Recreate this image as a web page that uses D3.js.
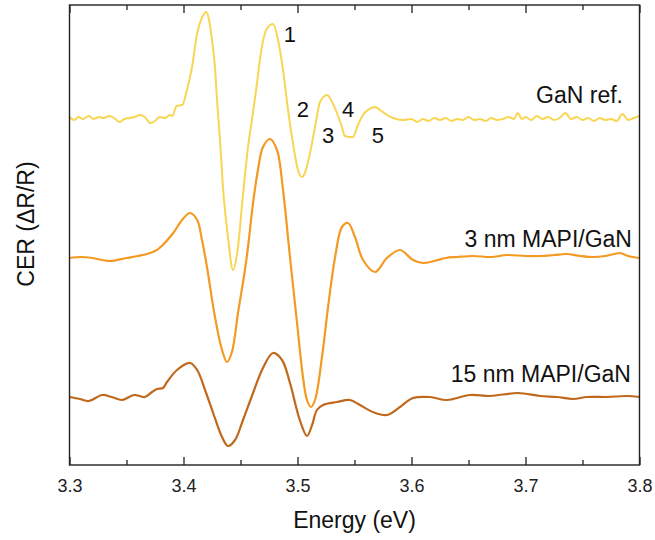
<!DOCTYPE html>
<html>
<head>
<meta charset="utf-8">
<script src="https://d3js.org/d3.v7.min.js"></script>
<style>
  body { margin: 0; background: #fff; }
  svg { display: block; font-family: "Liberation Sans", Arial, sans-serif; }
</style>
</head>
<body>
<svg id="chart" width="655" height="540"></svg>
<script>
// energies (eV) and CER values (arb. units, each curve relative to its own baseline)
const ganE = [3.300,3.304,3.308,3.312,3.317,3.321,3.326,3.330,3.335,3.339,3.344,3.348,3.353,3.357,3.362,3.366,3.371,3.375,3.379,3.384,3.388,
  3.390,3.394,3.399,3.403,3.4075,3.412,3.4165,3.420,3.4224,3.425,3.4276,3.4294,3.432,3.4346,3.439,3.4434,3.4478,3.452,3.4566,3.460,
  3.4645,3.467,3.4715,3.476,3.4785,3.4829,3.4873,3.4917,3.496,3.5004,3.504,3.5065,3.511,3.5154,3.5197,3.526,3.5303,3.5346,3.539,
  3.5416,3.546,3.5487,3.553,3.5574,3.5618,3.568,3.5724,3.5785,3.5838,3.5925,
  3.600,3.605,3.610,3.615,3.620,3.625,3.630,3.635,3.640,3.645,3.650,3.655,3.660,3.665,3.670,3.675,3.680,3.685,3.690,3.693,3.697,
  3.700,3.705,3.710,3.715,3.720,3.725,3.730,3.735,3.740,3.745,3.750,3.755,3.760,3.765,3.770,3.775,3.780,3.785,3.790,3.795,3.800];
const ganV = [0.1,-0.2,0.1,-0.1,0.2,-0.1,0.1,0,0.2,0,-0.4,-0.1,0,0.1,0.3,0.1,-0.5,-0.3,0.1,0,0.3,
  0.2,1.2,1.3,2.8,5.1,8.5,10.1,10.6,9.8,7.8,5.1,1.8,-2.2,-6.9,-11.9,-15.2,-12.9,-7.9,-2.9,-0.2,
  3.5,5.8,8.5,9.3,9.4,7.8,4.8,0.8,-2.5,-5.2,-5.9,-5.5,-3.5,-0.9,1.6,2.3,1.6,0.5,-0.9,
  -1.8,-1.9,-1.9,-0.7,0.3,0.8,1.1,0.8,0.3,0,-0.2,
  -0.1,-0.4,-0.1,-0.3,0,-0.2,0,-0.3,-0.1,-0.2,0.1,-0.2,-0.1,-0.3,0,-0.2,-0.1,0.1,-0.1,0.5,-0.1,
  0.1,-0.2,0.2,-0.1,0.1,-0.2,0,0.5,-0.1,0.1,-0.2,0,-0.3,0,-0.2,-0.1,-0.3,0.4,-0.2,0,0.2];

const mapi3E = [3.300,3.310,3.320,3.335,3.350,3.360,3.368,3.375,3.379,3.391,3.3987,3.4057,3.412,3.4162,3.4206,3.4276,3.4338,3.4382,3.4425,
  3.4478,3.4539,3.4566,3.461,3.4653,3.4697,3.4759,3.482,3.4873,3.4934,3.4996,3.5048,3.5083,3.5118,3.5154,3.5215,3.5268,3.533,
  3.539,3.5443,3.5504,3.5575,3.568,3.5785,3.5899,3.6013,3.6101,3.620,3.630,3.640,3.654,3.670,3.684,3.700,3.713,3.725,3.736,
  3.748,3.759,3.770,3.778,3.783,3.790,3.800];
const mapi3V = [0,0.1,0,-0.3,0,0.2,0.4,0.7,1.0,2.5,3.8,4.5,3.8,1.8,-0.9,-5.9,-9.2,-10.4,-9.4,
  -5.5,-1.2,1.1,5.5,8.8,11.1,11.9,10.8,6.8,0.1,-6.5,-11.9,-14.2,-14.9,-14.2,-9.9,-4.9,0.1,
  3.1,3.5,2.1,-0.2,-1.4,0,0.8,-0.2,-0.5,-0.3,0,0.1,0.2,0.1,0.3,0.2,0.2,0.3,0.4,
  0.2,0.1,0.2,0.4,0.5,0.2,0];

const mapi15E = [3.300,3.309,3.317,3.3285,3.337,3.346,3.3566,3.366,3.3724,3.3768,3.382,3.3855,3.3943,3.4057,3.412,3.4189,3.426,
  3.4338,3.439,3.4452,3.4522,3.461,3.4697,3.4785,3.4864,3.4934,3.502,3.5083,3.5128,3.517,3.5224,3.5347,3.546,3.5548,3.5662,
  3.5785,3.5899,3.6013,3.6162,3.631,3.6513,3.6689,3.6934,3.7127,3.7276,3.7417,3.754,3.7715,3.789,3.800];
const mapi15V = [0,-0.2,-0.4,0.2,0,-0.3,0.2,0,0.5,0.8,0.9,1.5,2.7,3.4,2.7,0.7,-1.6,
  -4.0,-4.9,-4.3,-2.3,0.4,2.9,4.4,3.7,1.4,-2.3,-3.9,-2.8,-1.3,-0.8,-0.5,-0.3,-0.8,-1.5,
  -1.8,-1.0,-0.1,0,-0.3,0.2,0.1,0.4,0.1,0,-0.2,0,0,0.1,0];

const seriesNames = ["GaN ref.", "3 nm MAPI/GaN", "15 nm MAPI/GaN"];
const seriesOffsets = [34.7, 20.7, 6.8];
const seriesLabelE = [3.7855, 3.7934, 3.7925];
const seriesLabelY = [36.2, 21.8, 8.3];
const seriesColors = ["#f8d552", "#f49a22", "#c0681c"];

const xTicks = [3.3, 3.4, 3.5, 3.6, 3.7, 3.8];
const xMinorTicks = [3.35, 3.45, 3.55, 3.65, 3.75];

// transition labels on the GaN curve
const peakLabels = ["1", "2", "3", "4", "5"];
const peakLabelE = [3.4934, 3.5048, 3.5268, 3.5443, 3.5706];
const peakLabelY = [42.3, 34.8, 32.2, 34.8, 32.2];

const svg = d3.select("#chart");
const x = d3.scaleLinear().domain([3.3, 3.8]).range([69.5, 639.5]);
const y = d3.scaleLinear().domain([0, 46]).range([465, 5]);

const series = [
  { E: ganE, V: ganV },
  { E: mapi3E, V: mapi3V },
  { E: mapi15E, V: mapi15V },
];

// noisy GaN trace keeps monotone segments, the smoother MAPI traces get a spline
const curves = [d3.curveMonotoneX, d3.curveCatmullRom.alpha(0.5), d3.curveCatmullRom.alpha(0.5)];

series.forEach((s, i) => {
  const pts = s.E.map((e, k) => [e, s.V[k] + seriesOffsets[i]]);
  const line = d3.line()
    .x((d) => x(d[0]))
    .y((d) => y(d[1]))
    .curve(curves[i]);
  svg.append("path")
    .datum(pts)
    .attr("fill", "none")
    .attr("stroke", seriesColors[i])
    .attr("stroke-width", i === 0 ? 2 : 2.2)
    .attr("stroke-linejoin", "round")
    .attr("d", line);
  svg.append("text")
    .attr("x", x(seriesLabelE[i]))
    .attr("y", y(seriesLabelY[i]))
    .attr("text-anchor", "end")
    .attr("font-size", 23)
    .attr("fill", "#111")
    .text(seriesNames[i]);
});

svg.selectAll(".peak")
  .data(peakLabels)
  .enter()
  .append("text")
  .attr("x", (d, i) => x(peakLabelE[i]))
  .attr("y", (d, i) => y(peakLabelY[i]))
  .attr("text-anchor", "middle")
  .attr("font-size", 22)
  .attr("fill", "#111")
  .text((d) => d);

// axes with inward ticks
const bottomAxis = svg.append("g").attr("transform", `translate(0,${y(0)})`);
bottomAxis.call(d3.axisBottom(x).tickValues(xTicks).tickSize(-8).tickPadding(14).tickFormat(d3.format(".1f")));
bottomAxis.append("g").call(d3.axisBottom(x).tickValues(xMinorTicks).tickSize(-5).tickFormat(""));
const topAxis = svg.append("g").attr("transform", `translate(0,${y(46)})`);
topAxis.call(d3.axisTop(x).tickValues(xTicks).tickSize(-8).tickFormat(""));
topAxis.append("g").call(d3.axisTop(x).tickValues(xMinorTicks).tickSize(-5).tickFormat(""));
svg.selectAll(".domain").remove();
svg.selectAll(".tick line").attr("stroke", "#222").attr("stroke-width", 1.3);
bottomAxis.selectAll("text")
  .attr("font-size", 18)
  .attr("fill", "#222")
  .attr("font-family", "Liberation Sans, Arial, sans-serif");

svg.append("rect")
  .attr("x", x(3.3))
  .attr("y", y(46))
  .attr("width", x(3.8) - x(3.3))
  .attr("height", y(0) - y(46))
  .attr("fill", "none")
  .attr("stroke", "#222")
  .attr("stroke-width", 1.4);

svg.append("text")
  .attr("x", (x(3.3) + x(3.8)) / 2)
  .attr("y", 528)
  .attr("text-anchor", "middle")
  .attr("font-size", 23)
  .attr("fill", "#111")
  .text("Energy (eV)");

svg.append("text")
  .attr("transform", "translate(34,224) rotate(-90)")
  .attr("text-anchor", "middle")
  .attr("font-size", 23)
  .attr("fill", "#111")
  .text("CER (ΔR/R)");
</script>
</body>
</html>
